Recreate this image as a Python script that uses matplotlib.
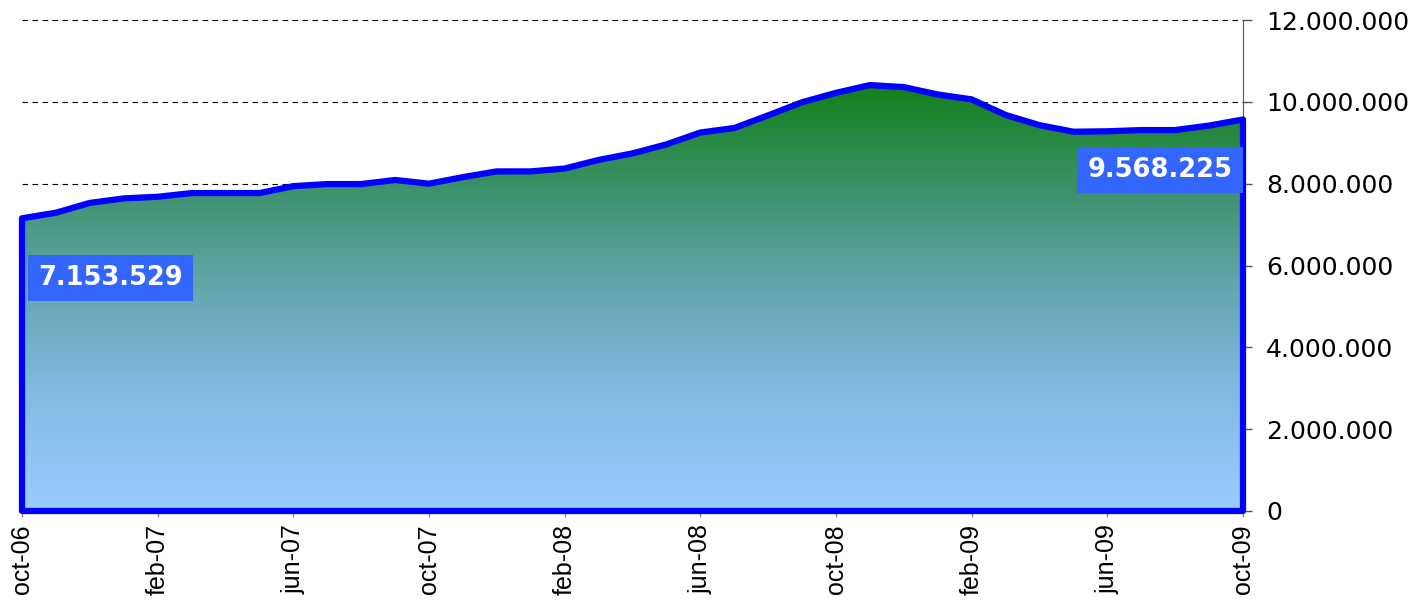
import numpy as np
import matplotlib
matplotlib.use('Agg')
import matplotlib.pyplot as plt
from matplotlib.patches import Polygon
from matplotlib.colors import LinearSegmentedColormap
from matplotlib.ticker import FuncFormatter, MultipleLocator

# monthly values, oct-06 .. oct-09
values = [
    7153529, 7290000, 7530000, 7640000, 7680000, 7770000, 7770000, 7770000,
    7940000, 7990000, 7990000, 8090000, 8000000, 8160000, 8300000, 8300000,
    8370000, 8580000, 8740000, 8960000, 9250000, 9360000, 9670000, 9990000,
    10220000, 10410000, 10360000, 10180000, 10060000, 9680000, 9430000, 9270000,
    9280000, 9310000, 9310000, 9420000, 9568225,
]
tick_labels = ['oct-06', 'feb-07', 'jun-07', 'oct-07', 'feb-08', 'jun-08',
               'oct-08', 'feb-09', 'jun-09', 'oct-09']
first_label = '7.153.529'
last_label = '9.568.225'

x = np.arange(len(values))

fig = plt.figure(figsize=(14.22, 6.05), dpi=100)
ax = fig.add_axes([22 / 1422, 1 - 511 / 605, 1221 / 1422, 491 / 605])

# outline of the area
verts = [(0, 0)] + list(zip(x, values)) + [(x[-1], 0)]
poly = Polygon(verts, closed=True, facecolor='none', edgecolor='#0000ff',
               linewidth=4.5, joinstyle='round', zorder=3, clip_on=False)
ax.add_patch(poly)

# vertical gradient, green on top to light blue at the bottom
cmap = LinearSegmentedColormap.from_list('grad', [
    (0.0, (19 / 255, 128 / 255, 25 / 255)),
    (0.27, (64 / 255, 148 / 255, 116 / 255)),
    (0.5, (104 / 255, 168 / 255, 180 / 255)),
    (0.775, (135 / 255, 190 / 255, 235 / 255)),
    (1.0, (153 / 255, 204 / 255, 255 / 255)),
])
grad = np.linspace(0, 1, 256).reshape(-1, 1)
im = ax.imshow(grad, cmap=cmap, aspect='auto', origin='upper',
               extent=(x[0], x[-1], 0, max(values)), zorder=2)
im.set_clip_path(poly)

ax.set_xlim(x[0], x[-1])
ax.set_ylim(0, 12000000)

# axes styling
for side in ['top', 'left']:
    ax.spines[side].set_visible(False)
ax.spines['right'].set_color('#555555')
ax.spines['bottom'].set_color('#888888')
ax.yaxis.tick_right()
ax.yaxis.set_major_locator(MultipleLocator(2000000))
ax.yaxis.set_major_formatter(FuncFormatter(lambda v, p: f'{int(v):,}'.replace(',', '.')))
ax.tick_params(axis='y', direction='out', length=6.5, width=1, color='#555555',
               pad=10, labelsize=18, labelcolor='black')
ax.set_xticks(x[::4])
ax.set_xticklabels(tick_labels, rotation=90, fontsize=18, family='Liberation Sans')
ax.tick_params(axis='x', direction='out', length=4.5, width=1, color='#888888', pad=5)
ax.yaxis.grid(True, linestyle=(0, (5, 4)), color='black', linewidth=0.8)
ax.set_axisbelow(True)

# first / last value labels
box = dict(boxstyle='square,pad=0.4', facecolor='#3366ff', edgecolor='none')
ax.text(2.62, 5690000, first_label, color='white', fontsize=18.5, fontweight='bold',
        ha='center', va='center', bbox=box, zorder=5, clip_on=False)
ax.text(33.55, 8330000, last_label, color='white', fontsize=18.5, fontweight='bold',
        ha='center', va='center', bbox=box, zorder=5, clip_on=False)

fig.savefig('out.png', dpi=100)
plt.close(fig)
